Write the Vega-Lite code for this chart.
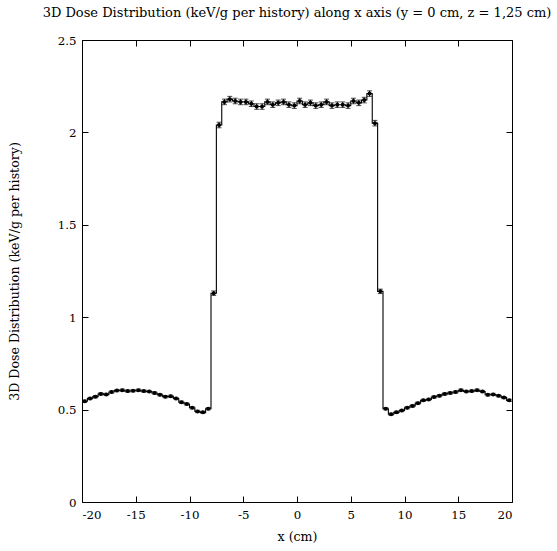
{
  "$schema": "https://vega.github.io/schema/vega-lite/v6.json",
  "autosize": "none",
  "width": 430,
  "height": 462,
  "padding": {"left": 82, "top": 40, "right": 45, "bottom": 49},
  "background": "white",
  "title": {
    "text": "3D Dose Distribution (keV/g per history) along x axis (y = 0 cm, z = 1,25 cm)",
    "font": "DejaVu Serif",
    "fontSize": 13,
    "fontWeight": "normal",
    "color": "black",
    "anchor": "middle",
    "limit": 560,
    "offset": 15,
    "dx": 0
  },
  "config": {
    "view": {"stroke": "black", "strokeWidth": 1},
    "axis": {
      "grid": false,
      "domain": false,
      "tickColor": "black",
      "tickSize": -6,
      "tickWidth": 1,
      "labelFont": "DejaVu Serif",
      "labelFontSize": 11.8,
      "labelColor": "black",
      "titleFont": "DejaVu Serif",
      "titleFontSize": 12.6,
      "titleFontWeight": "normal",
      "titleColor": "black"
    }
  },
  "data": {
    "values": [
      {"x": -19.75, "v": 0.545, "e": 0.006},
      {"x": -19.25, "v": 0.56, "e": 0.006},
      {"x": -18.75, "v": 0.57, "e": 0.006},
      {"x": -18.25, "v": 0.585, "e": 0.006},
      {"x": -17.75, "v": 0.582, "e": 0.006},
      {"x": -17.25, "v": 0.595, "e": 0.006},
      {"x": -16.75, "v": 0.603, "e": 0.006},
      {"x": -16.25, "v": 0.605, "e": 0.006},
      {"x": -15.75, "v": 0.6, "e": 0.006},
      {"x": -15.25, "v": 0.602, "e": 0.006},
      {"x": -14.75, "v": 0.605, "e": 0.006},
      {"x": -14.25, "v": 0.6, "e": 0.006},
      {"x": -13.75, "v": 0.598, "e": 0.006},
      {"x": -13.25, "v": 0.59, "e": 0.006},
      {"x": -12.75, "v": 0.58, "e": 0.006},
      {"x": -12.25, "v": 0.57, "e": 0.006},
      {"x": -11.75, "v": 0.572, "e": 0.006},
      {"x": -11.25, "v": 0.56, "e": 0.006},
      {"x": -10.75, "v": 0.54, "e": 0.006},
      {"x": -10.25, "v": 0.53, "e": 0.006},
      {"x": -9.75, "v": 0.51, "e": 0.006},
      {"x": -9.25, "v": 0.49, "e": 0.006},
      {"x": -8.75, "v": 0.485, "e": 0.006},
      {"x": -8.25, "v": 0.505, "e": 0.006},
      {"x": -7.75, "v": 1.13, "e": 0.012},
      {"x": -7.25, "v": 2.04, "e": 0.015},
      {"x": -6.75, "v": 2.165, "e": 0.015},
      {"x": -6.25, "v": 2.18, "e": 0.015},
      {"x": -5.75, "v": 2.17, "e": 0.015},
      {"x": -5.25, "v": 2.165, "e": 0.015},
      {"x": -4.75, "v": 2.165, "e": 0.015},
      {"x": -4.25, "v": 2.155, "e": 0.015},
      {"x": -3.75, "v": 2.14, "e": 0.015},
      {"x": -3.25, "v": 2.14, "e": 0.015},
      {"x": -2.75, "v": 2.165, "e": 0.015},
      {"x": -2.25, "v": 2.15, "e": 0.015},
      {"x": -1.75, "v": 2.16, "e": 0.015},
      {"x": -1.25, "v": 2.165, "e": 0.015},
      {"x": -0.75, "v": 2.15, "e": 0.015},
      {"x": -0.25, "v": 2.145, "e": 0.015},
      {"x": 0.25, "v": 2.17, "e": 0.015},
      {"x": 0.75, "v": 2.15, "e": 0.015},
      {"x": 1.25, "v": 2.16, "e": 0.015},
      {"x": 1.75, "v": 2.145, "e": 0.015},
      {"x": 2.25, "v": 2.15, "e": 0.015},
      {"x": 2.75, "v": 2.165, "e": 0.015},
      {"x": 3.25, "v": 2.145, "e": 0.015},
      {"x": 3.75, "v": 2.15, "e": 0.015},
      {"x": 4.25, "v": 2.15, "e": 0.015},
      {"x": 4.75, "v": 2.145, "e": 0.015},
      {"x": 5.25, "v": 2.17, "e": 0.015},
      {"x": 5.75, "v": 2.16, "e": 0.015},
      {"x": 6.25, "v": 2.175, "e": 0.015},
      {"x": 6.75, "v": 2.21, "e": 0.015},
      {"x": 7.25, "v": 2.05, "e": 0.015},
      {"x": 7.75, "v": 1.14, "e": 0.012},
      {"x": 8.25, "v": 0.505, "e": 0.006},
      {"x": 8.75, "v": 0.475, "e": 0.006},
      {"x": 9.25, "v": 0.485, "e": 0.006},
      {"x": 9.75, "v": 0.495, "e": 0.006},
      {"x": 10.25, "v": 0.51, "e": 0.006},
      {"x": 10.75, "v": 0.52, "e": 0.006},
      {"x": 11.25, "v": 0.535, "e": 0.006},
      {"x": 11.75, "v": 0.55, "e": 0.006},
      {"x": 12.25, "v": 0.555, "e": 0.006},
      {"x": 12.75, "v": 0.568, "e": 0.006},
      {"x": 13.25, "v": 0.575, "e": 0.006},
      {"x": 13.75, "v": 0.585, "e": 0.006},
      {"x": 14.25, "v": 0.59, "e": 0.006},
      {"x": 14.75, "v": 0.595, "e": 0.006},
      {"x": 15.25, "v": 0.605, "e": 0.006},
      {"x": 15.75, "v": 0.598, "e": 0.006},
      {"x": 16.25, "v": 0.6, "e": 0.006},
      {"x": 16.75, "v": 0.605, "e": 0.006},
      {"x": 17.25, "v": 0.598, "e": 0.006},
      {"x": 17.75, "v": 0.58, "e": 0.006},
      {"x": 18.25, "v": 0.582, "e": 0.006},
      {"x": 18.75, "v": 0.575, "e": 0.006},
      {"x": 19.25, "v": 0.565, "e": 0.006},
      {"x": 19.75, "v": 0.55, "e": 0.006}
    ]
  },
  "layer": [
    {
      "mark": {"type": "line", "interpolate": "step", "color": "black", "strokeWidth": 1.1},
      "encoding": {
        "x": {
          "field": "x", "type": "quantitative",
          "scale": {"domain": [-20, 20], "nice": false},
          "axis": {"values": [-20, -15, -10, -5, 0, 5, 10, 15, 20], "labelExpr": "'' + datum.value", "labelPadding": 13, "title": "x (cm)", "titlePadding": 10}
        },
        "y": {
          "field": "v", "type": "quantitative",
          "scale": {"domain": [0, 2.5], "nice": false, "zero": false},
          "axis": {"values": [0, 0.5, 1, 1.5, 2, 2.5], "labelExpr": "'' + datum.value", "labelPadding": 12, "title": "3D Dose Distribution (keV/g per history)", "titlePadding": 36}
        }
      }
    },
    {
      "mark": {"type": "errorbar", "ticks": {"size": 5, "color": "black"}, "rule": {"color": "black", "strokeWidth": 1}},
      "encoding": {
        "x": {"field": "x", "type": "quantitative", "axis": null},
        "y": {"field": "v", "type": "quantitative", "axis": null},
        "yError": {"field": "e"}
      }
    },
    {
      "mark": {"type": "point", "shape": "circle", "filled": true, "color": "black", "size": 16, "opacity": 1},
      "encoding": {
        "x": {"field": "x", "type": "quantitative", "axis": null},
        "y": {"field": "v", "type": "quantitative", "axis": null}
      }
    },
    {
      "mark": {"type": "rule", "opacity": 0},
      "encoding": {
        "x": {"field": "x", "type": "quantitative", "axis": {"orient": "top", "values": [-20, -15, -10, -5, 0, 5, 10, 15, 20], "labels": false, "title": null}},
        "y": {"field": "v", "type": "quantitative", "axis": {"orient": "right", "values": [0, 0.5, 1, 1.5, 2, 2.5], "labels": false, "title": null}}
      }
    }
  ],
  "resolve": {"axis": {"x": "independent", "y": "independent"}}
}
